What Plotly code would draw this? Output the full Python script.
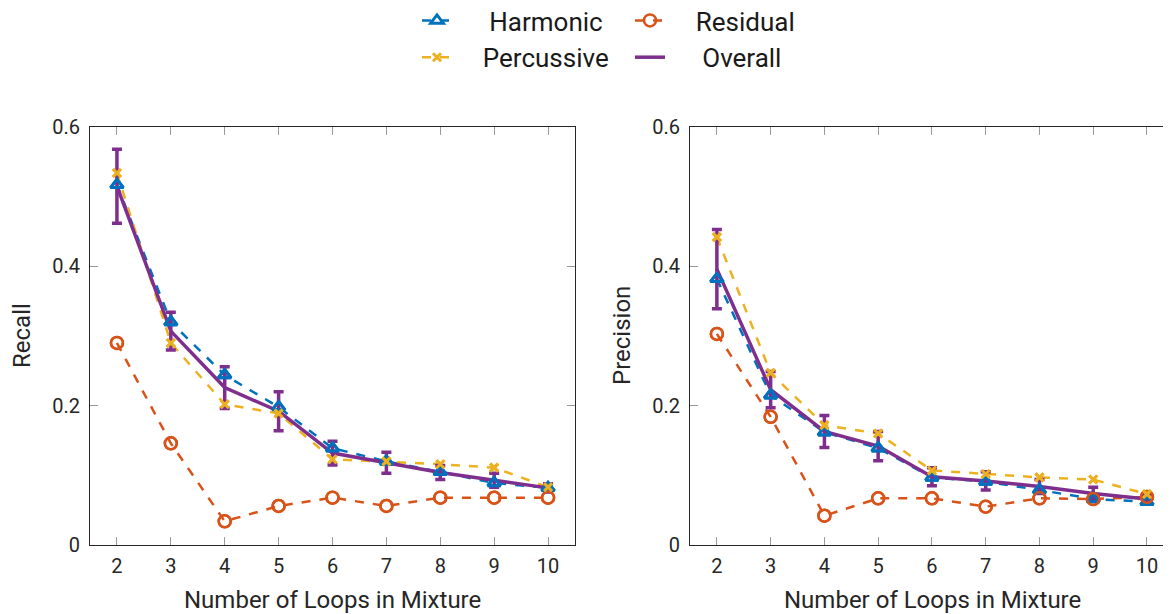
import plotly.graph_objects as go

loops = [2, 3, 4, 5, 6, 7, 8, 9, 10]
x_ticks = [2, 3, 4, 5, 6, 7, 8, 9, 10]
y_ticks = [0, 0.2, 0.4, 0.6]
y_tick_labels = ["0", "0.2", "0.4", "0.6"]

# Recall (left panel)
recall_harmonic = [0.517, 0.320, 0.244, 0.198, 0.139, 0.120, 0.105, 0.089, 0.082]
recall_residual = [0.290, 0.146, 0.034, 0.056, 0.068, 0.056, 0.068, 0.068, 0.068]
recall_percussive = [0.534, 0.290, 0.202, 0.189, 0.123, 0.120, 0.116, 0.111, 0.083]
recall_overall = [0.515, 0.307, 0.226, 0.192, 0.132, 0.118, 0.104, 0.093, 0.082]
recall_overall_err = [0.053, 0.027, 0.030, 0.028, 0.017, 0.015, 0.010, 0.010, 0.006]

# Precision (right panel)
precision_harmonic = [0.382, 0.215, 0.162, 0.139, 0.097, 0.091, 0.079, 0.066, 0.062]
precision_residual = [0.303, 0.184, 0.042, 0.067, 0.067, 0.055, 0.067, 0.066, 0.069]
precision_percussive = [0.442, 0.247, 0.172, 0.160, 0.107, 0.102, 0.097, 0.094, 0.073]
precision_overall = [0.396, 0.223, 0.163, 0.142, 0.098, 0.092, 0.084, 0.074, 0.066]
precision_overall_err = [0.057, 0.026, 0.023, 0.021, 0.013, 0.013, 0.010, 0.009, 0.005]

BLUE = "#0072BD"
ORANGE = "#D95319"
YELLOW = "#EDB120"
PURPLE = "#7E2F8E"

NB = "\u00a0"
names = {
    "Harmonic": NB * 5 + "Harmonic",
    "Residual": NB * 4 + "Residual",
    "Percussive": NB * 4 + "Percussive",
    "Overall": NB * 5 + "Overall",
}
legend_of = {"Harmonic": "legend", "Percussive": "legend", "Residual": "legend2", "Overall": "legend2"}

series_style = {
    "Harmonic": dict(color=BLUE, symbol="triangle-up-open", size=11, mlw=3),
    "Residual": dict(color=ORANGE, symbol="circle-open", size=12, mlw=2.5),
    "Percussive": dict(color=YELLOW, symbol="x-thin-open", size=8, mlw=3),
}

fig = go.Figure()

panels = [
    ("x", "y", recall_harmonic, recall_residual, recall_percussive, recall_overall, recall_overall_err, True),
    ("x2", "y2", precision_harmonic, precision_residual, precision_percussive, precision_overall, precision_overall_err, False),
]

for xa, ya, harm, resid, perc, overall, err, show in panels:
    data = {"Harmonic": harm, "Residual": resid, "Percussive": perc}
    for key in ["Harmonic", "Residual", "Percussive"]:
        st = series_style[key]
        fig.add_trace(go.Scatter(
            x=loops, y=data[key], xaxis=xa, yaxis=ya, mode="lines+markers",
            name=names[key], showlegend=show, legend=legend_of[key],
            line=dict(color=st["color"], width=2.5, dash="dash"),
            marker=dict(symbol=st["symbol"], size=st["size"], color=st["color"],
                        line=dict(color=st["color"], width=st["mlw"])),
        ))
    fig.add_trace(go.Scatter(
        x=loops, y=overall, xaxis=xa, yaxis=ya, mode="lines",
        name=names["Overall"], showlegend=show, legend=legend_of["Overall"],
        line=dict(color=PURPLE, width=3.5),
        error_y=dict(type="data", array=err, visible=True, color=PURPLE, thickness=3.5, width=5),
    ))
    for key in ["Harmonic", "Residual", "Percussive"]:
        st = series_style[key]
        fig.add_trace(go.Scatter(
            x=loops, y=data[key], xaxis=xa, yaxis=ya, mode="markers", showlegend=False,
            hoverinfo="skip",
            marker=dict(symbol=st["symbol"], size=st["size"], color=st["color"],
                        line=dict(color=st["color"], width=st["mlw"])),
        ))

# page body has an 8px margin, so figure coordinates = reference coordinates - 8
W, H = 1163, 606
OFF = 8
top_px, bot_px = 127 - OFF, 545 - OFF
plot_h = bot_px - top_px

axis_common = dict(
    showgrid=False, zeroline=False, showline=True, linecolor="#262626", linewidth=1,
    mirror="ticks", ticks="inside", ticklen=8, tickcolor="#9a9a9a", tickwidth=1,
    tickfont=dict(family="Roboto", size=20, color="#262626"),
)

legend_common = dict(
    orientation="v", yanchor="middle", y=1 + (top_px - (39 - OFF)) / plot_h, xanchor="left",
    font=dict(family="Roboto", size=26, color="#1a1a1a"), bgcolor="rgba(0,0,0,0)",
    traceorder="normal",
)

fig.update_layout(
    width=W, height=H,
    margin=dict(l=0, r=0, t=top_px, b=H - bot_px, autoexpand=False),
    paper_bgcolor="white", plot_bgcolor="white",
    font=dict(family="Roboto", color="#262626"),
    xaxis=dict(domain=[(90 - OFF) / W, (575 - OFF) / W], range=[1.5, 10.5], tickvals=x_ticks, anchor="y",
               ticklabelstandoff=3, **axis_common),
    yaxis=dict(domain=[0, 1], range=[0, 0.6], tickvals=y_ticks, ticktext=y_tick_labels, anchor="x",
               ticklabelstandoff=5, **axis_common),
    xaxis2=dict(domain=[(690 - OFF) / W, 1.0], range=[1.5, 10.447], tickvals=x_ticks, anchor="y2",
                ticklabelstandoff=3, **axis_common),
    yaxis2=dict(domain=[0, 1], range=[0, 0.6], tickvals=y_ticks, ticktext=y_tick_labels, anchor="x2",
                ticklabelstandoff=5, **axis_common),
    legend=dict(x=(417 - OFF) / W, **legend_common),
    legend2=dict(x=(630 - OFF) / W, **legend_common),
    showlegend=True,
)

title_font = dict(family="Roboto", size=24, color="#262626")
fig.add_annotation(text="Recall", x=(22 - OFF) / W, y=0.5, xref="paper", yref="paper", textangle=-90,
                   showarrow=False, font=title_font, xanchor="center", yanchor="middle")
fig.add_annotation(text="Precision", x=(622 - OFF) / W, y=0.5, xref="paper", yref="paper", textangle=-90,
                   showarrow=False, font=title_font, xanchor="center", yanchor="middle")
fig.add_annotation(text="Number of Loops in Mixture", x=((90 + 575) / 2 - OFF) / W, y=-(600 - 545) / plot_h,
                   xref="paper", yref="paper", showarrow=False, font=title_font,
                   xanchor="center", yanchor="middle")
fig.add_annotation(text="Number of Loops in Mixture", x=((690 + 1174) / 2 - OFF) / W, y=-(600 - 545) / plot_h,
                   xref="paper", yref="paper", showarrow=False, font=title_font,
                   xanchor="center", yanchor="middle")

fig.write_html("out.html")
